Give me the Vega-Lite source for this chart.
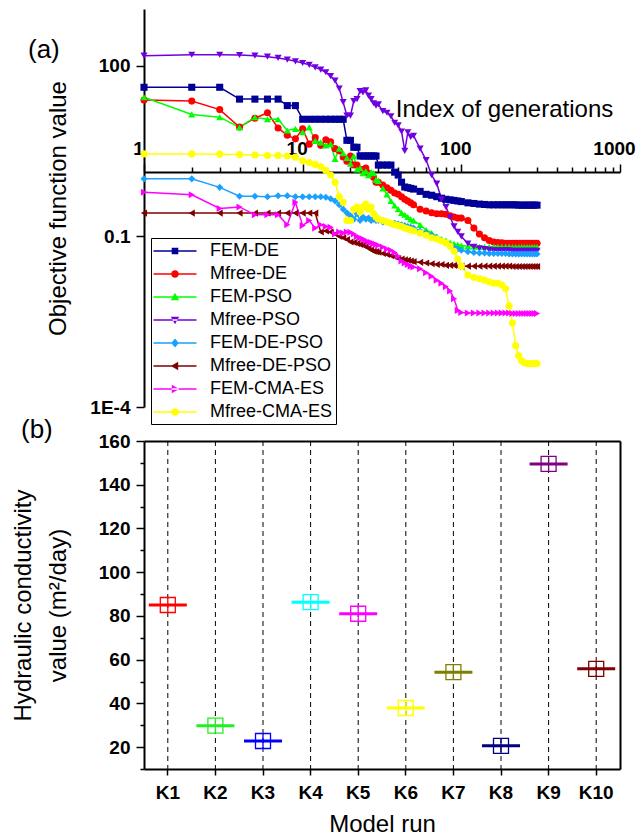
{
"$schema":"https://vega.github.io/schema/vega-lite/v6.json",
"padding":{"left":10,"top":9,"right":8,"bottom":6},
"bounds":"flush",
"spacing":34,
"config":{"font":"Liberation Sans","view":{"stroke":null},
"axis":{"domainColor":"black","domainWidth":2,"tickColor":"black","tickWidth":1.5,"labelColor":"black","titleColor":"black","labelFont":"Liberation Sans","titleFont":"Liberation Sans","labelFontWeight":"bold","labelFontSize":19,"titleFontSize":24,"titleFontWeight":"normal","grid":false},
"title":{"font":"Liberation Sans","color":"black","fontWeight":"normal","fontSize":26}},
"datasets":{
"conv":[
{"s":"FEM-DE","g":1,"v":42},{"s":"FEM-DE","g":2,"v":42},{"s":"FEM-DE","g":3,"v":42},{"s":"FEM-DE","g":4,"v":26},{"s":"FEM-DE","g":5,"v":26},{"s":"FEM-DE","g":6,"v":26},{"s":"FEM-DE","g":7,"v":26},{"s":"FEM-DE","g":8,"v":20},{"s":"FEM-DE","g":9,"v":20},{"s":"FEM-DE","g":10,"v":11.5},{"s":"FEM-DE","g":11,"v":11.5},{"s":"FEM-DE","g":12,"v":11.5},{"s":"FEM-DE","g":13,"v":11.5},{"s":"FEM-DE","g":14,"v":11.5},{"s":"FEM-DE","g":15,"v":11.5},{"s":"FEM-DE","g":16,"v":11.5},{"s":"FEM-DE","g":17,"v":11.5},{"s":"FEM-DE","g":18,"v":11.5},{"s":"FEM-DE","g":19,"v":4.9},{"s":"FEM-DE","g":20,"v":4.9},{"s":"FEM-DE","g":21,"v":3.7},{"s":"FEM-DE","g":22,"v":3.7},{"s":"FEM-DE","g":23,"v":2.6},{"s":"FEM-DE","g":24,"v":2.6},{"s":"FEM-DE","g":25,"v":2.6},{"s":"FEM-DE","g":26,"v":2.6},{"s":"FEM-DE","g":27,"v":2.6},{"s":"FEM-DE","g":28,"v":2.6},{"s":"FEM-DE","g":29,"v":2.6},{"s":"FEM-DE","g":30,"v":1.8},{"s":"FEM-DE","g":32,"v":1.8},{"s":"FEM-DE","g":34,"v":1.8},{"s":"FEM-DE","g":36,"v":1.8},{"s":"FEM-DE","g":38,"v":1.35},{"s":"FEM-DE","g":40,"v":1.2},{"s":"FEM-DE","g":42,"v":0.9},{"s":"FEM-DE","g":44,"v":0.74},{"s":"FEM-DE","g":46,"v":0.72},{"s":"FEM-DE","g":48,"v":0.7},{"s":"FEM-DE","g":50,"v":0.68},{"s":"FEM-DE","g":55,"v":0.62},{"s":"FEM-DE","g":60,"v":0.55},{"s":"FEM-DE","g":65,"v":0.53},{"s":"FEM-DE","g":70,"v":0.5},{"s":"FEM-DE","g":75,"v":0.47},{"s":"FEM-DE","g":80,"v":0.45},{"s":"FEM-DE","g":85,"v":0.44},{"s":"FEM-DE","g":90,"v":0.43},{"s":"FEM-DE","g":95,"v":0.42},{"s":"FEM-DE","g":100,"v":0.41},{"s":"FEM-DE","g":110,"v":0.39},{"s":"FEM-DE","g":120,"v":0.38},{"s":"FEM-DE","g":130,"v":0.37},{"s":"FEM-DE","g":140,"v":0.365},{"s":"FEM-DE","g":150,"v":0.36},{"s":"FEM-DE","g":160,"v":0.36},{"s":"FEM-DE","g":170,"v":0.36},{"s":"FEM-DE","g":180,"v":0.36},{"s":"FEM-DE","g":190,"v":0.36},{"s":"FEM-DE","g":200,"v":0.36},{"s":"FEM-DE","g":210,"v":0.36},{"s":"FEM-DE","g":220,"v":0.36},{"s":"FEM-DE","g":230,"v":0.355},{"s":"FEM-DE","g":240,"v":0.355},{"s":"FEM-DE","g":250,"v":0.355},{"s":"FEM-DE","g":260,"v":0.355},{"s":"FEM-DE","g":270,"v":0.355},{"s":"FEM-DE","g":280,"v":0.355},{"s":"FEM-DE","g":290,"v":0.355},{"s":"FEM-DE","g":300,"v":0.355},
{"s":"Mfree-DE","g":1,"v":25},{"s":"Mfree-DE","g":2,"v":24},{"s":"Mfree-DE","g":3,"v":17},{"s":"Mfree-DE","g":4,"v":8.4},{"s":"Mfree-DE","g":5,"v":12},{"s":"Mfree-DE","g":6,"v":15},{"s":"Mfree-DE","g":7,"v":8.1},{"s":"Mfree-DE","g":8,"v":6},{"s":"Mfree-DE","g":9,"v":5.2},{"s":"Mfree-DE","g":10,"v":7.8},{"s":"Mfree-DE","g":11,"v":4.2},{"s":"Mfree-DE","g":12,"v":5.5},{"s":"Mfree-DE","g":13,"v":4},{"s":"Mfree-DE","g":14,"v":5},{"s":"Mfree-DE","g":15,"v":4.6},{"s":"Mfree-DE","g":16,"v":3.5},{"s":"Mfree-DE","g":17,"v":3.2},{"s":"Mfree-DE","g":18,"v":2.5},{"s":"Mfree-DE","g":19,"v":2.1},{"s":"Mfree-DE","g":20,"v":2.6},{"s":"Mfree-DE","g":21,"v":1.8},{"s":"Mfree-DE","g":22,"v":1.8},{"s":"Mfree-DE","g":23,"v":1.5},{"s":"Mfree-DE","g":24,"v":1.5},{"s":"Mfree-DE","g":25,"v":1.6},{"s":"Mfree-DE","g":26,"v":1.3},{"s":"Mfree-DE","g":27,"v":1.2},{"s":"Mfree-DE","g":28,"v":1.1},{"s":"Mfree-DE","g":29,"v":0.9},{"s":"Mfree-DE","g":30,"v":0.9},{"s":"Mfree-DE","g":32,"v":0.8},{"s":"Mfree-DE","g":34,"v":0.72},{"s":"Mfree-DE","g":36,"v":0.65},{"s":"Mfree-DE","g":38,"v":0.58},{"s":"Mfree-DE","g":40,"v":0.55},{"s":"Mfree-DE","g":42,"v":0.5},{"s":"Mfree-DE","g":44,"v":0.45},{"s":"Mfree-DE","g":46,"v":0.42},{"s":"Mfree-DE","g":48,"v":0.39},{"s":"Mfree-DE","g":50,"v":0.36},{"s":"Mfree-DE","g":55,"v":0.3},{"s":"Mfree-DE","g":60,"v":0.28},{"s":"Mfree-DE","g":65,"v":0.26},{"s":"Mfree-DE","g":70,"v":0.25},{"s":"Mfree-DE","g":75,"v":0.25},{"s":"Mfree-DE","g":80,"v":0.245},{"s":"Mfree-DE","g":85,"v":0.23},{"s":"Mfree-DE","g":90,"v":0.22},{"s":"Mfree-DE","g":95,"v":0.21},{"s":"Mfree-DE","g":100,"v":0.21},{"s":"Mfree-DE","g":110,"v":0.19},{"s":"Mfree-DE","g":120,"v":0.14},{"s":"Mfree-DE","g":130,"v":0.11},{"s":"Mfree-DE","g":140,"v":0.095},{"s":"Mfree-DE","g":150,"v":0.085},{"s":"Mfree-DE","g":160,"v":0.08},{"s":"Mfree-DE","g":170,"v":0.078},{"s":"Mfree-DE","g":180,"v":0.077},{"s":"Mfree-DE","g":190,"v":0.076},{"s":"Mfree-DE","g":200,"v":0.076},{"s":"Mfree-DE","g":210,"v":0.076},{"s":"Mfree-DE","g":220,"v":0.076},{"s":"Mfree-DE","g":230,"v":0.076},{"s":"Mfree-DE","g":240,"v":0.076},{"s":"Mfree-DE","g":250,"v":0.076},{"s":"Mfree-DE","g":260,"v":0.076},{"s":"Mfree-DE","g":270,"v":0.076},{"s":"Mfree-DE","g":280,"v":0.076},{"s":"Mfree-DE","g":290,"v":0.076},{"s":"Mfree-DE","g":300,"v":0.076},
{"s":"FEM-PSO","g":1,"v":28},{"s":"FEM-PSO","g":2,"v":14},{"s":"FEM-PSO","g":3,"v":12.5},{"s":"FEM-PSO","g":4,"v":8.3},{"s":"FEM-PSO","g":5,"v":12.5},{"s":"FEM-PSO","g":6,"v":11.5},{"s":"FEM-PSO","g":7,"v":11.5},{"s":"FEM-PSO","g":8,"v":7.3},{"s":"FEM-PSO","g":9,"v":7.8},{"s":"FEM-PSO","g":10,"v":6.8},{"s":"FEM-PSO","g":11,"v":8.3},{"s":"FEM-PSO","g":12,"v":4.8},{"s":"FEM-PSO","g":13,"v":4.5},{"s":"FEM-PSO","g":14,"v":4},{"s":"FEM-PSO","g":15,"v":4.2},{"s":"FEM-PSO","g":16,"v":2.3},{"s":"FEM-PSO","g":17,"v":3.5},{"s":"FEM-PSO","g":18,"v":2.9},{"s":"FEM-PSO","g":19,"v":2.4},{"s":"FEM-PSO","g":20,"v":1.9},{"s":"FEM-PSO","g":21,"v":2.6},{"s":"FEM-PSO","g":22,"v":1.5},{"s":"FEM-PSO","g":23,"v":1.6},{"s":"FEM-PSO","g":24,"v":1.3},{"s":"FEM-PSO","g":25,"v":1.4},{"s":"FEM-PSO","g":26,"v":1.2},{"s":"FEM-PSO","g":27,"v":1.35},{"s":"FEM-PSO","g":28,"v":1.3},{"s":"FEM-PSO","g":29,"v":1.0},{"s":"FEM-PSO","g":30,"v":0.95},{"s":"FEM-PSO","g":32,"v":0.7},{"s":"FEM-PSO","g":34,"v":0.55},{"s":"FEM-PSO","g":36,"v":0.42},{"s":"FEM-PSO","g":38,"v":0.35},{"s":"FEM-PSO","g":40,"v":0.3},{"s":"FEM-PSO","g":42,"v":0.26},{"s":"FEM-PSO","g":44,"v":0.24},{"s":"FEM-PSO","g":46,"v":0.22},{"s":"FEM-PSO","g":48,"v":0.2},{"s":"FEM-PSO","g":50,"v":0.19},{"s":"FEM-PSO","g":55,"v":0.16},{"s":"FEM-PSO","g":60,"v":0.13},{"s":"FEM-PSO","g":65,"v":0.115},{"s":"FEM-PSO","g":70,"v":0.1},{"s":"FEM-PSO","g":75,"v":0.09},{"s":"FEM-PSO","g":80,"v":0.085},{"s":"FEM-PSO","g":85,"v":0.078},{"s":"FEM-PSO","g":90,"v":0.074},{"s":"FEM-PSO","g":95,"v":0.071},{"s":"FEM-PSO","g":100,"v":0.069},{"s":"FEM-PSO","g":110,"v":0.067},{"s":"FEM-PSO","g":120,"v":0.066},{"s":"FEM-PSO","g":130,"v":0.066},{"s":"FEM-PSO","g":140,"v":0.066},{"s":"FEM-PSO","g":150,"v":0.066},{"s":"FEM-PSO","g":160,"v":0.066},{"s":"FEM-PSO","g":170,"v":0.066},{"s":"FEM-PSO","g":180,"v":0.066},{"s":"FEM-PSO","g":190,"v":0.066},{"s":"FEM-PSO","g":200,"v":0.066},{"s":"FEM-PSO","g":210,"v":0.065},{"s":"FEM-PSO","g":220,"v":0.065},{"s":"FEM-PSO","g":230,"v":0.065},{"s":"FEM-PSO","g":240,"v":0.065},{"s":"FEM-PSO","g":250,"v":0.065},{"s":"FEM-PSO","g":260,"v":0.065},{"s":"FEM-PSO","g":270,"v":0.065},{"s":"FEM-PSO","g":280,"v":0.065},{"s":"FEM-PSO","g":290,"v":0.065},{"s":"FEM-PSO","g":300,"v":0.065},
{"s":"Mfree-PSO","g":1,"v":151},{"s":"Mfree-PSO","g":2,"v":157},{"s":"Mfree-PSO","g":3,"v":157},{"s":"Mfree-PSO","g":4,"v":155},{"s":"Mfree-PSO","g":5,"v":151},{"s":"Mfree-PSO","g":6,"v":145},{"s":"Mfree-PSO","g":7,"v":138},{"s":"Mfree-PSO","g":8,"v":129},{"s":"Mfree-PSO","g":9,"v":120},{"s":"Mfree-PSO","g":10,"v":112},{"s":"Mfree-PSO","g":11,"v":104},{"s":"Mfree-PSO","g":12,"v":94},{"s":"Mfree-PSO","g":13,"v":86},{"s":"Mfree-PSO","g":14,"v":77},{"s":"Mfree-PSO","g":15,"v":66},{"s":"Mfree-PSO","g":16,"v":55},{"s":"Mfree-PSO","g":17,"v":40},{"s":"Mfree-PSO","g":18,"v":23},{"s":"Mfree-PSO","g":19,"v":13.3},{"s":"Mfree-PSO","g":20,"v":13.3},{"s":"Mfree-PSO","g":21,"v":24},{"s":"Mfree-PSO","g":22,"v":26},{"s":"Mfree-PSO","g":23,"v":36},{"s":"Mfree-PSO","g":24,"v":34},{"s":"Mfree-PSO","g":25,"v":37},{"s":"Mfree-PSO","g":26,"v":30},{"s":"Mfree-PSO","g":27,"v":26},{"s":"Mfree-PSO","g":28,"v":22},{"s":"Mfree-PSO","g":29,"v":20},{"s":"Mfree-PSO","g":30,"v":21},{"s":"Mfree-PSO","g":32,"v":16},{"s":"Mfree-PSO","g":34,"v":15},{"s":"Mfree-PSO","g":36,"v":13},{"s":"Mfree-PSO","g":38,"v":10},{"s":"Mfree-PSO","g":40,"v":9},{"s":"Mfree-PSO","g":42,"v":7},{"s":"Mfree-PSO","g":44,"v":3.2},{"s":"Mfree-PSO","g":46,"v":6.8},{"s":"Mfree-PSO","g":48,"v":5.6},{"s":"Mfree-PSO","g":50,"v":5.9},{"s":"Mfree-PSO","g":55,"v":3.5},{"s":"Mfree-PSO","g":60,"v":2.2},{"s":"Mfree-PSO","g":65,"v":1.2},{"s":"Mfree-PSO","g":70,"v":0.85},{"s":"Mfree-PSO","g":75,"v":0.45},{"s":"Mfree-PSO","g":80,"v":0.33},{"s":"Mfree-PSO","g":85,"v":0.22},{"s":"Mfree-PSO","g":90,"v":0.15},{"s":"Mfree-PSO","g":95,"v":0.12},{"s":"Mfree-PSO","g":100,"v":0.1},{"s":"Mfree-PSO","g":110,"v":0.075},{"s":"Mfree-PSO","g":120,"v":0.066},{"s":"Mfree-PSO","g":130,"v":0.062},{"s":"Mfree-PSO","g":140,"v":0.06},{"s":"Mfree-PSO","g":150,"v":0.058},{"s":"Mfree-PSO","g":160,"v":0.057},{"s":"Mfree-PSO","g":170,"v":0.057},{"s":"Mfree-PSO","g":180,"v":0.057},{"s":"Mfree-PSO","g":190,"v":0.057},{"s":"Mfree-PSO","g":200,"v":0.057},{"s":"Mfree-PSO","g":210,"v":0.056},{"s":"Mfree-PSO","g":220,"v":0.056},{"s":"Mfree-PSO","g":230,"v":0.056},{"s":"Mfree-PSO","g":240,"v":0.056},{"s":"Mfree-PSO","g":250,"v":0.056},{"s":"Mfree-PSO","g":260,"v":0.056},{"s":"Mfree-PSO","g":270,"v":0.056},{"s":"Mfree-PSO","g":280,"v":0.056},{"s":"Mfree-PSO","g":290,"v":0.056},{"s":"Mfree-PSO","g":300,"v":0.056},
{"s":"FEM-DE-PSO","g":1,"v":1.03},{"s":"FEM-DE-PSO","g":2,"v":1.03},{"s":"FEM-DE-PSO","g":3,"v":0.73},{"s":"FEM-DE-PSO","g":4,"v":0.51},{"s":"FEM-DE-PSO","g":5,"v":0.51},{"s":"FEM-DE-PSO","g":6,"v":0.5},{"s":"FEM-DE-PSO","g":7,"v":0.52},{"s":"FEM-DE-PSO","g":8,"v":0.52},{"s":"FEM-DE-PSO","g":9,"v":0.5},{"s":"FEM-DE-PSO","g":10,"v":0.5},{"s":"FEM-DE-PSO","g":11,"v":0.5},{"s":"FEM-DE-PSO","g":12,"v":0.5},{"s":"FEM-DE-PSO","g":13,"v":0.5},{"s":"FEM-DE-PSO","g":14,"v":0.49},{"s":"FEM-DE-PSO","g":15,"v":0.46},{"s":"FEM-DE-PSO","g":16,"v":0.42},{"s":"FEM-DE-PSO","g":17,"v":0.36},{"s":"FEM-DE-PSO","g":18,"v":0.3},{"s":"FEM-DE-PSO","g":19,"v":0.26},{"s":"FEM-DE-PSO","g":20,"v":0.23},{"s":"FEM-DE-PSO","g":21,"v":0.2},{"s":"FEM-DE-PSO","g":22,"v":0.25},{"s":"FEM-DE-PSO","g":23,"v":0.19},{"s":"FEM-DE-PSO","g":24,"v":0.22},{"s":"FEM-DE-PSO","g":25,"v":0.2},{"s":"FEM-DE-PSO","g":26,"v":0.21},{"s":"FEM-DE-PSO","g":27,"v":0.19},{"s":"FEM-DE-PSO","g":28,"v":0.2},{"s":"FEM-DE-PSO","g":29,"v":0.19},{"s":"FEM-DE-PSO","g":30,"v":0.19},{"s":"FEM-DE-PSO","g":32,"v":0.18},{"s":"FEM-DE-PSO","g":34,"v":0.18},{"s":"FEM-DE-PSO","g":36,"v":0.17},{"s":"FEM-DE-PSO","g":38,"v":0.17},{"s":"FEM-DE-PSO","g":40,"v":0.165},{"s":"FEM-DE-PSO","g":42,"v":0.16},{"s":"FEM-DE-PSO","g":44,"v":0.155},{"s":"FEM-DE-PSO","g":46,"v":0.15},{"s":"FEM-DE-PSO","g":48,"v":0.145},{"s":"FEM-DE-PSO","g":50,"v":0.14},{"s":"FEM-DE-PSO","g":55,"v":0.125},{"s":"FEM-DE-PSO","g":60,"v":0.115},{"s":"FEM-DE-PSO","g":65,"v":0.105},{"s":"FEM-DE-PSO","g":70,"v":0.095},{"s":"FEM-DE-PSO","g":75,"v":0.085},{"s":"FEM-DE-PSO","g":80,"v":0.078},{"s":"FEM-DE-PSO","g":85,"v":0.07},{"s":"FEM-DE-PSO","g":90,"v":0.064},{"s":"FEM-DE-PSO","g":95,"v":0.06},{"s":"FEM-DE-PSO","g":100,"v":0.057},{"s":"FEM-DE-PSO","g":110,"v":0.054},{"s":"FEM-DE-PSO","g":120,"v":0.052},{"s":"FEM-DE-PSO","g":130,"v":0.051},{"s":"FEM-DE-PSO","g":140,"v":0.051},{"s":"FEM-DE-PSO","g":150,"v":0.05},{"s":"FEM-DE-PSO","g":160,"v":0.05},{"s":"FEM-DE-PSO","g":170,"v":0.05},{"s":"FEM-DE-PSO","g":180,"v":0.05},{"s":"FEM-DE-PSO","g":190,"v":0.05},{"s":"FEM-DE-PSO","g":200,"v":0.049},{"s":"FEM-DE-PSO","g":210,"v":0.049},{"s":"FEM-DE-PSO","g":220,"v":0.049},{"s":"FEM-DE-PSO","g":230,"v":0.049},{"s":"FEM-DE-PSO","g":240,"v":0.049},{"s":"FEM-DE-PSO","g":250,"v":0.049},{"s":"FEM-DE-PSO","g":260,"v":0.049},{"s":"FEM-DE-PSO","g":270,"v":0.049},{"s":"FEM-DE-PSO","g":280,"v":0.049},{"s":"FEM-DE-PSO","g":290,"v":0.049},{"s":"FEM-DE-PSO","g":300,"v":0.049},
{"s":"Mfree-DE-PSO","g":1,"v":0.257},{"s":"Mfree-DE-PSO","g":2,"v":0.257},{"s":"Mfree-DE-PSO","g":3,"v":0.257},{"s":"Mfree-DE-PSO","g":4,"v":0.257},{"s":"Mfree-DE-PSO","g":5,"v":0.257},{"s":"Mfree-DE-PSO","g":6,"v":0.257},{"s":"Mfree-DE-PSO","g":7,"v":0.257},{"s":"Mfree-DE-PSO","g":8,"v":0.257},{"s":"Mfree-DE-PSO","g":9,"v":0.257},{"s":"Mfree-DE-PSO","g":10,"v":0.257},{"s":"Mfree-DE-PSO","g":11,"v":0.257},{"s":"Mfree-DE-PSO","g":12,"v":0.257},{"s":"Mfree-DE-PSO","g":13,"v":0.12},{"s":"Mfree-DE-PSO","g":14,"v":0.125},{"s":"Mfree-DE-PSO","g":15,"v":0.12},{"s":"Mfree-DE-PSO","g":16,"v":0.11},{"s":"Mfree-DE-PSO","g":17,"v":0.1},{"s":"Mfree-DE-PSO","g":18,"v":0.095},{"s":"Mfree-DE-PSO","g":19,"v":0.088},{"s":"Mfree-DE-PSO","g":20,"v":0.08},{"s":"Mfree-DE-PSO","g":21,"v":0.078},{"s":"Mfree-DE-PSO","g":22,"v":0.075},{"s":"Mfree-DE-PSO","g":23,"v":0.072},{"s":"Mfree-DE-PSO","g":24,"v":0.07},{"s":"Mfree-DE-PSO","g":25,"v":0.066},{"s":"Mfree-DE-PSO","g":26,"v":0.062},{"s":"Mfree-DE-PSO","g":27,"v":0.058},{"s":"Mfree-DE-PSO","g":28,"v":0.055},{"s":"Mfree-DE-PSO","g":29,"v":0.054},{"s":"Mfree-DE-PSO","g":30,"v":0.053},{"s":"Mfree-DE-PSO","g":32,"v":0.05},{"s":"Mfree-DE-PSO","g":34,"v":0.048},{"s":"Mfree-DE-PSO","g":36,"v":0.046},{"s":"Mfree-DE-PSO","g":38,"v":0.044},{"s":"Mfree-DE-PSO","g":40,"v":0.041},{"s":"Mfree-DE-PSO","g":42,"v":0.04},{"s":"Mfree-DE-PSO","g":44,"v":0.039},{"s":"Mfree-DE-PSO","g":46,"v":0.038},{"s":"Mfree-DE-PSO","g":48,"v":0.037},{"s":"Mfree-DE-PSO","g":50,"v":0.036},{"s":"Mfree-DE-PSO","g":55,"v":0.035},{"s":"Mfree-DE-PSO","g":60,"v":0.034},{"s":"Mfree-DE-PSO","g":65,"v":0.033},{"s":"Mfree-DE-PSO","g":70,"v":0.032},{"s":"Mfree-DE-PSO","g":75,"v":0.032},{"s":"Mfree-DE-PSO","g":80,"v":0.031},{"s":"Mfree-DE-PSO","g":85,"v":0.031},{"s":"Mfree-DE-PSO","g":90,"v":0.031},{"s":"Mfree-DE-PSO","g":95,"v":0.03},{"s":"Mfree-DE-PSO","g":100,"v":0.03},{"s":"Mfree-DE-PSO","g":110,"v":0.03},{"s":"Mfree-DE-PSO","g":120,"v":0.03},{"s":"Mfree-DE-PSO","g":130,"v":0.03},{"s":"Mfree-DE-PSO","g":140,"v":0.03},{"s":"Mfree-DE-PSO","g":150,"v":0.03},{"s":"Mfree-DE-PSO","g":160,"v":0.03},{"s":"Mfree-DE-PSO","g":170,"v":0.03},{"s":"Mfree-DE-PSO","g":180,"v":0.03},{"s":"Mfree-DE-PSO","g":190,"v":0.03},{"s":"Mfree-DE-PSO","g":200,"v":0.03},{"s":"Mfree-DE-PSO","g":210,"v":0.0295},{"s":"Mfree-DE-PSO","g":220,"v":0.0295},{"s":"Mfree-DE-PSO","g":230,"v":0.0295},{"s":"Mfree-DE-PSO","g":240,"v":0.0295},{"s":"Mfree-DE-PSO","g":250,"v":0.0295},{"s":"Mfree-DE-PSO","g":260,"v":0.0295},{"s":"Mfree-DE-PSO","g":270,"v":0.0295},{"s":"Mfree-DE-PSO","g":280,"v":0.0295},{"s":"Mfree-DE-PSO","g":290,"v":0.0295},{"s":"Mfree-DE-PSO","g":300,"v":0.0295},
{"s":"FEM-CMA-ES","g":1,"v":0.6},{"s":"FEM-CMA-ES","g":2,"v":0.54},{"s":"FEM-CMA-ES","g":3,"v":0.31},{"s":"FEM-CMA-ES","g":4,"v":0.33},{"s":"FEM-CMA-ES","g":5,"v":0.24},{"s":"FEM-CMA-ES","g":6,"v":0.24},{"s":"FEM-CMA-ES","g":7,"v":0.24},{"s":"FEM-CMA-ES","g":8,"v":0.16},{"s":"FEM-CMA-ES","g":9,"v":0.4},{"s":"FEM-CMA-ES","g":10,"v":0.155},{"s":"FEM-CMA-ES","g":11,"v":0.19},{"s":"FEM-CMA-ES","g":12,"v":0.14},{"s":"FEM-CMA-ES","g":13,"v":0.16},{"s":"FEM-CMA-ES","g":14,"v":0.15},{"s":"FEM-CMA-ES","g":15,"v":0.145},{"s":"FEM-CMA-ES","g":16,"v":0.11},{"s":"FEM-CMA-ES","g":17,"v":0.12},{"s":"FEM-CMA-ES","g":18,"v":0.115},{"s":"FEM-CMA-ES","g":19,"v":0.12},{"s":"FEM-CMA-ES","g":20,"v":0.118},{"s":"FEM-CMA-ES","g":21,"v":0.11},{"s":"FEM-CMA-ES","g":22,"v":0.1},{"s":"FEM-CMA-ES","g":23,"v":0.095},{"s":"FEM-CMA-ES","g":24,"v":0.09},{"s":"FEM-CMA-ES","g":25,"v":0.085},{"s":"FEM-CMA-ES","g":26,"v":0.08},{"s":"FEM-CMA-ES","g":27,"v":0.078},{"s":"FEM-CMA-ES","g":28,"v":0.075},{"s":"FEM-CMA-ES","g":29,"v":0.072},{"s":"FEM-CMA-ES","g":30,"v":0.07},{"s":"FEM-CMA-ES","g":32,"v":0.065},{"s":"FEM-CMA-ES","g":34,"v":0.06},{"s":"FEM-CMA-ES","g":36,"v":0.057},{"s":"FEM-CMA-ES","g":38,"v":0.052},{"s":"FEM-CMA-ES","g":40,"v":0.045},{"s":"FEM-CMA-ES","g":42,"v":0.037},{"s":"FEM-CMA-ES","g":44,"v":0.034},{"s":"FEM-CMA-ES","g":46,"v":0.032},{"s":"FEM-CMA-ES","g":48,"v":0.03},{"s":"FEM-CMA-ES","g":50,"v":0.029},{"s":"FEM-CMA-ES","g":55,"v":0.027},{"s":"FEM-CMA-ES","g":60,"v":0.023},{"s":"FEM-CMA-ES","g":65,"v":0.02},{"s":"FEM-CMA-ES","g":70,"v":0.017},{"s":"FEM-CMA-ES","g":75,"v":0.015},{"s":"FEM-CMA-ES","g":80,"v":0.013},{"s":"FEM-CMA-ES","g":85,"v":0.011},{"s":"FEM-CMA-ES","g":90,"v":0.008},{"s":"FEM-CMA-ES","g":95,"v":0.005},{"s":"FEM-CMA-ES","g":100,"v":0.0046},{"s":"FEM-CMA-ES","g":110,"v":0.0045},{"s":"FEM-CMA-ES","g":120,"v":0.0045},{"s":"FEM-CMA-ES","g":130,"v":0.0045},{"s":"FEM-CMA-ES","g":140,"v":0.0045},{"s":"FEM-CMA-ES","g":150,"v":0.0045},{"s":"FEM-CMA-ES","g":160,"v":0.0045},{"s":"FEM-CMA-ES","g":170,"v":0.0045},{"s":"FEM-CMA-ES","g":180,"v":0.0045},{"s":"FEM-CMA-ES","g":190,"v":0.0045},{"s":"FEM-CMA-ES","g":200,"v":0.0045},{"s":"FEM-CMA-ES","g":210,"v":0.0044},{"s":"FEM-CMA-ES","g":220,"v":0.0044},{"s":"FEM-CMA-ES","g":230,"v":0.0044},{"s":"FEM-CMA-ES","g":240,"v":0.0044},{"s":"FEM-CMA-ES","g":250,"v":0.0044},{"s":"FEM-CMA-ES","g":260,"v":0.0044},{"s":"FEM-CMA-ES","g":270,"v":0.0044},{"s":"FEM-CMA-ES","g":280,"v":0.0044},{"s":"FEM-CMA-ES","g":290,"v":0.0044},{"s":"FEM-CMA-ES","g":300,"v":0.0044},
{"s":"Mfree-CMA-ES","g":1,"v":2.83},{"s":"Mfree-CMA-ES","g":2,"v":2.83},{"s":"Mfree-CMA-ES","g":3,"v":2.8},{"s":"Mfree-CMA-ES","g":4,"v":2.75},{"s":"Mfree-CMA-ES","g":5,"v":2.7},{"s":"Mfree-CMA-ES","g":6,"v":2.65},{"s":"Mfree-CMA-ES","g":7,"v":2.65},{"s":"Mfree-CMA-ES","g":8,"v":2.6},{"s":"Mfree-CMA-ES","g":9,"v":2.48},{"s":"Mfree-CMA-ES","g":10,"v":2.15},{"s":"Mfree-CMA-ES","g":11,"v":2.0},{"s":"Mfree-CMA-ES","g":12,"v":1.85},{"s":"Mfree-CMA-ES","g":13,"v":1.7},{"s":"Mfree-CMA-ES","g":14,"v":1.45},{"s":"Mfree-CMA-ES","g":15,"v":1.2},{"s":"Mfree-CMA-ES","g":16,"v":0.9},{"s":"Mfree-CMA-ES","g":17,"v":0.5},{"s":"Mfree-CMA-ES","g":18,"v":0.4},{"s":"Mfree-CMA-ES","g":19,"v":0.19},{"s":"Mfree-CMA-ES","g":20,"v":0.19},{"s":"Mfree-CMA-ES","g":21,"v":0.3},{"s":"Mfree-CMA-ES","g":22,"v":0.33},{"s":"Mfree-CMA-ES","g":23,"v":0.27},{"s":"Mfree-CMA-ES","g":24,"v":0.33},{"s":"Mfree-CMA-ES","g":25,"v":0.37},{"s":"Mfree-CMA-ES","g":26,"v":0.3},{"s":"Mfree-CMA-ES","g":27,"v":0.33},{"s":"Mfree-CMA-ES","g":28,"v":0.25},{"s":"Mfree-CMA-ES","g":29,"v":0.22},{"s":"Mfree-CMA-ES","g":30,"v":0.2},{"s":"Mfree-CMA-ES","g":32,"v":0.19},{"s":"Mfree-CMA-ES","g":34,"v":0.18},{"s":"Mfree-CMA-ES","g":36,"v":0.17},{"s":"Mfree-CMA-ES","g":38,"v":0.16},{"s":"Mfree-CMA-ES","g":40,"v":0.155},{"s":"Mfree-CMA-ES","g":42,"v":0.15},{"s":"Mfree-CMA-ES","g":44,"v":0.14},{"s":"Mfree-CMA-ES","g":46,"v":0.135},{"s":"Mfree-CMA-ES","g":48,"v":0.13},{"s":"Mfree-CMA-ES","g":50,"v":0.125},{"s":"Mfree-CMA-ES","g":55,"v":0.115},{"s":"Mfree-CMA-ES","g":60,"v":0.105},{"s":"Mfree-CMA-ES","g":65,"v":0.095},{"s":"Mfree-CMA-ES","g":70,"v":0.09},{"s":"Mfree-CMA-ES","g":75,"v":0.083},{"s":"Mfree-CMA-ES","g":80,"v":0.077},{"s":"Mfree-CMA-ES","g":85,"v":0.068},{"s":"Mfree-CMA-ES","g":90,"v":0.055},{"s":"Mfree-CMA-ES","g":95,"v":0.04},{"s":"Mfree-CMA-ES","g":100,"v":0.03},{"s":"Mfree-CMA-ES","g":110,"v":0.021},{"s":"Mfree-CMA-ES","g":120,"v":0.019},{"s":"Mfree-CMA-ES","g":130,"v":0.018},{"s":"Mfree-CMA-ES","g":140,"v":0.017},{"s":"Mfree-CMA-ES","g":150,"v":0.016},{"s":"Mfree-CMA-ES","g":160,"v":0.015},{"s":"Mfree-CMA-ES","g":170,"v":0.015},{"s":"Mfree-CMA-ES","g":180,"v":0.014},{"s":"Mfree-CMA-ES","g":190,"v":0.012},{"s":"Mfree-CMA-ES","g":200,"v":0.006},{"s":"Mfree-CMA-ES","g":210,"v":0.003},{"s":"Mfree-CMA-ES","g":220,"v":0.0012},{"s":"Mfree-CMA-ES","g":230,"v":0.0008},{"s":"Mfree-CMA-ES","g":240,"v":0.00065},{"s":"Mfree-CMA-ES","g":250,"v":0.0006},{"s":"Mfree-CMA-ES","g":260,"v":0.00058},{"s":"Mfree-CMA-ES","g":270,"v":0.00058},{"s":"Mfree-CMA-ES","g":280,"v":0.00058},{"s":"Mfree-CMA-ES","g":290,"v":0.00058},{"s":"Mfree-CMA-ES","g":300,"v":0.00058}
],
"kvals":[{"k":"K1","v":85},{"k":"K2","v":29.8},{"k":"K3","v":22.8},{"k":"K4","v":86.3},{"k":"K5","v":81},{"k":"K6","v":37.9},{"k":"K7","v":54.3},{"k":"K8","v":20.6},{"k":"K9","v":149.5},{"k":"K10","v":55.8}]
},
"vconcat":[
{"width":476,"height":398,
"title":{"text":"(a)","anchor":"start","frame":"group","orient":"top","offset":0,"baseline":"middle","dx":-116,"dy":67,"fontSize":26,"fontWeight":"normal"},
"data":{"name":"conv"},
"encoding":{
"x":{"field":"g","type":"quantitative","scale":{"type":"log","domain":[1,1000]},
"axis":{"orient":"top","offset":-163,"values":[1,2,3,4,5,6,7,8,9,10,20,30,40,50,60,70,80,90,100,200,300,400,500,600,700,800,900,1000],
"labelExpr":"datum.value == 1 || datum.value == 10 || datum.value == 100 || datum.value == 1000 ? format(datum.value, 'd') : ''",
"tickSize":{"condition":{"test":"datum.value == 1 || datum.value == 10 || datum.value == 100 || datum.value == 1000","value":8},"value":5},
"labelOverlap":false,"labelFlush":false,"labelPadding":6,"labelOffset":-6,
"title":"Index of generations","titleX":360,"titleY":-63,"titleAlign":"center","titleBaseline":"middle","titleFontSize":24}},
"y":{"field":"v","type":"quantitative","scale":{"type":"log","domain":[0.0001,1000]},
"axis":{"values":[0.0001,0.1,100],"labelExpr":"datum.value < 0.001 ? '1E-4' : (datum.value < 1 ? '0.1' : '100')","tickSize":8,"labelPadding":6,
"title":"Objective function value","titleX":-86,"titleBaseline":"middle","titleFontSize":24}}
},
"layer":[
{"mark":{"type":"line","strokeWidth":1.5},
"encoding":{"color":{"field":"s","type":"nominal","scale":{"domain":["FEM-DE","Mfree-DE","FEM-PSO","Mfree-PSO","FEM-DE-PSO","Mfree-DE-PSO","FEM-CMA-ES","Mfree-CMA-ES"],"range":["#000099","#FF0000","#00FF00","#7000E0","#1AA0FF","#800000","#FF00FF","#FFFF00"]},"legend":null}}},
{"mark":{"type":"point","filled":true,"size":50,"opacity":1},
"encoding":{"color":{"field":"s","type":"nominal","scale":{"domain":["FEM-DE","Mfree-DE","FEM-PSO","Mfree-PSO","FEM-DE-PSO","Mfree-DE-PSO","FEM-CMA-ES","Mfree-CMA-ES"],"range":["#000099","#FF0000","#00FF00","#7000E0","#1AA0FF","#800000","#FF00FF","#FFFF00"]},"legend":null},
"shape":{"field":"s","type":"nominal","scale":{"domain":["FEM-DE","Mfree-DE","FEM-PSO","Mfree-PSO","FEM-DE-PSO","Mfree-DE-PSO","FEM-CMA-ES","Mfree-CMA-ES"],"range":["square","circle","triangle-up","triangle-down","diamond","triangle-left","triangle-right","circle"]},"legend":null}}},
{"transform":[{"filter":"false"}],
"mark":{"type":"point","filled":true,"opacity":1,"strokeWidth":0},
"encoding":{"color":{"field":"s","type":"nominal","scale":{"domain":["FEM-DE","Mfree-DE","FEM-PSO","Mfree-PSO","FEM-DE-PSO","Mfree-DE-PSO","FEM-CMA-ES","Mfree-CMA-ES"],"range":["#000099","#FF0000","#00FF00","#7000E0","#1AA0FF","#800000","#FF00FF","#FFFF00"]},
"legend":{"orient":"none","legendX":7,"legendY":229,"title":null,"strokeColor":"black","fillColor":"white","padding":3,"symbolSize":400,"symbolOffset":11,"labelOffset":25,"labelFontSize":18,"labelFont":"Liberation Sans","labelColor":"black","rowPadding":4,"symbolStrokeWidth":0,"symbolOpacity":1}},
"shape":{"field":"s","type":"nominal","scale":{"domain":["FEM-DE","Mfree-DE","FEM-PSO","Mfree-PSO","FEM-DE-PSO","Mfree-DE-PSO","FEM-CMA-ES","Mfree-CMA-ES"],
"range":["M-2.15,-0.08H2.15V0.08H-2.15ZM-0.33,-0.33H0.33V0.33H-0.33Z",
"M-2.15,-0.08H2.15V0.08H-2.15ZM-0.38,0A0.38,0.38,0,1,1,0.38,0A0.38,0.38,0,1,1,-0.38,0Z",
"M-2.15,-0.08H2.15V0.08H-2.15ZM0,-0.42L0.42,0.32H-0.42Z",
"M-2.15,-0.08H2.15V0.08H-2.15ZM0,0.42L0.42,-0.32H-0.42Z",
"M-2.15,-0.08H2.15V0.08H-2.15ZM0,-0.45L0.38,0L0,0.45L-0.38,0Z",
"M-2.15,-0.08H2.15V0.08H-2.15ZM-0.42,0L0.32,-0.42V0.42Z",
"M-2.15,-0.08H2.15V0.08H-2.15ZM0.42,0L-0.32,-0.42V0.42Z",
"M-2.15,-0.08H2.15V0.08H-2.15ZM-0.38,0A0.38,0.38,0,1,1,0.38,0A0.38,0.38,0,1,1,-0.38,0Z"]},
"legend":{"orient":"none","legendX":7,"legendY":229,"title":null,"strokeColor":"black","fillColor":"white","padding":3,"symbolSize":400,"symbolOffset":11,"labelOffset":25,"labelFontSize":18,"labelFont":"Liberation Sans","labelColor":"black","rowPadding":4,"symbolStrokeWidth":0,"symbolOpacity":1}}}}
],
"resolve":{"scale":{"color":"independent","shape":"independent"}}
},
{"width":476,"height":328,
"title":{"text":"(b)","anchor":"start","frame":"group","orient":"top","offset":0,"baseline":"middle","dx":-123,"dy":24,"fontSize":26,"fontWeight":"normal"},
"data":{"name":"kvals"},
"layer":[
{"mark":{"type":"rule","strokeDash":[5,4],"color":"black","strokeWidth":1},
"encoding":{"x":{"field":"k","type":"nominal","sort":null,"scale":{"paddingInner":0,"paddingOuter":0},"axis":null}}},
{"mark":{"type":"tick","orient":"horizontal","size":38,"thickness":3,"opacity":1},
"encoding":{
"x":{"field":"k","type":"nominal","sort":null,"axis":{"orient":"bottom","labelAngle":0,"tickSize":6,"labelPadding":8,"title":"Model run","titlePadding":10,"titleFontSize":24}},
"y":{"field":"v","type":"quantitative","scale":{"domain":[10,160],"nice":false,"zero":false},
"axis":{"orient":"left","values":[10,20,30,40,50,60,70,80,90,100,110,120,130,140,150,160],"labelExpr":"datum.value % 20 == 0 ? datum.label : ''",
"tickSize":{"condition":{"test":"datum.value % 20 == 0","value":8},"value":4},"labelPadding":6,
"grid":true,"gridColor":"black","gridWidth":2,"gridOpacity":{"condition":{"test":"datum.value == 160","value":1},"value":0},
"title":["Hydraulic conductivity","value (m²/day)"],"titleX":-121,"titleBaseline":"middle","titleLineHeight":35,"titleFontSize":24}},
"color":{"field":"k","type":"nominal","sort":null,"scale":{"domain":["K1","K2","K3","K4","K5","K6","K7","K8","K9","K10"],"range":["#FF0000","#22EE22","#0000FF","#00FFFF","#FF00FF","#FFFF00","#808000","#000080","#800080","#800000"]},"legend":null}}},
{"mark":{"type":"point","shape":"M-1,-1H1V1H-1ZM0,-1V1M-1,0H1","size":225,"filled":false,"strokeWidth":1.3,"opacity":1},
"encoding":{
"x":{"field":"k","type":"nominal","sort":null,"axis":null},
"y":{"field":"v","type":"quantitative","axis":{"orient":"right","values":[10,160],"labelExpr":"''","tickSize":0,"tickOpacity":0,"labelPadding":0,"title":null,"domain":true,"domainWidth":2,"domainColor":"black"}},
"color":{"field":"k","type":"nominal","sort":null,"legend":null}}}
],
"resolve":{"axis":{"x":"independent","y":"independent"}}
}
]
}
